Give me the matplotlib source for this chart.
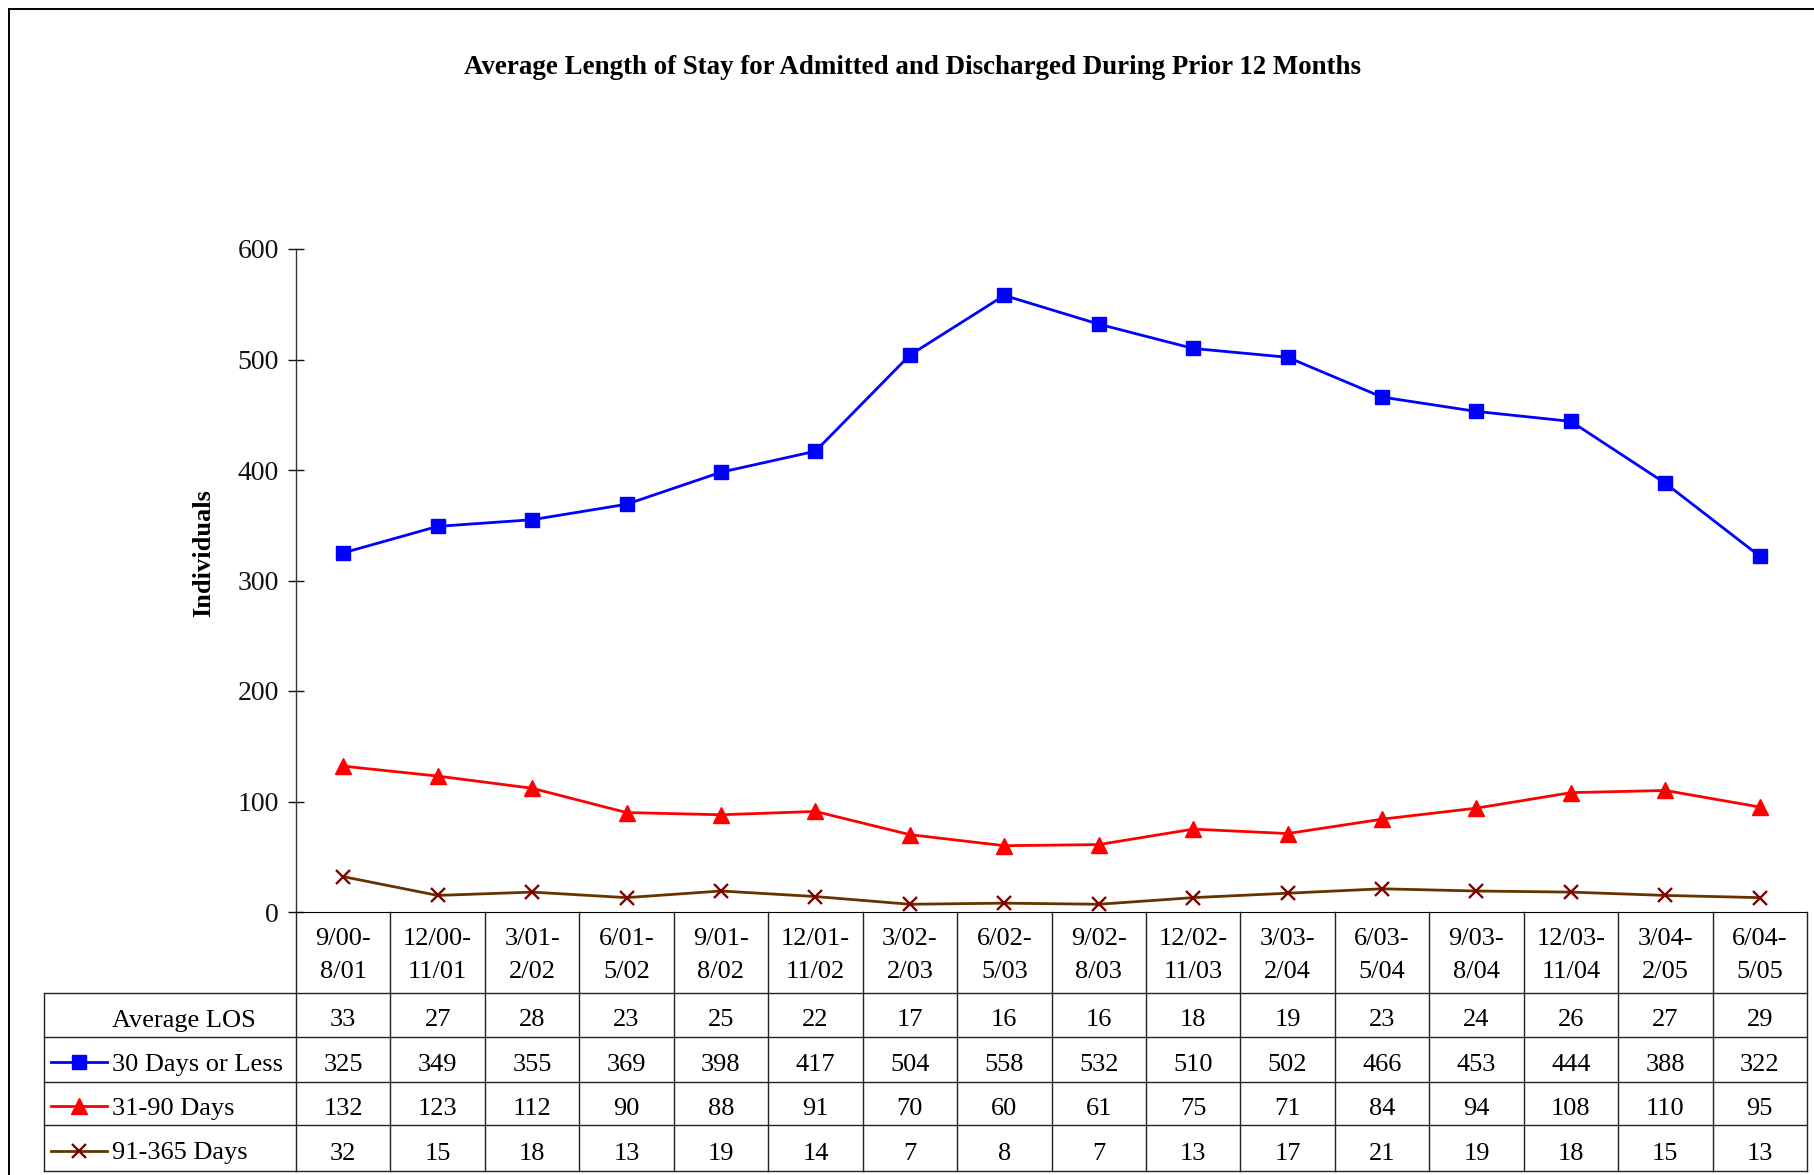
import numpy as np
import matplotlib
matplotlib.use("Agg")
from matplotlib import pyplot as plt
from matplotlib.transforms import blended_transform_factory
from matplotlib.lines import Line2D

plt.rcParams['font.family'] = ['Liberation Serif', 'DejaVu Serif']

# data
periods = ["9/00-\n8/01", "12/00-\n11/01", "3/01-\n2/02", "6/01-\n5/02",
           "9/01-\n8/02", "12/01-\n11/02", "3/02-\n2/03", "6/02-\n5/03",
           "9/02-\n8/03", "12/02-\n11/03", "3/03-\n2/04", "6/03-\n5/04",
           "9/03-\n8/04", "12/03-\n11/04", "3/04-\n2/05", "6/04-\n5/05"]
avg_los = [33, 27, 28, 23, 25, 22, 17, 16, 16, 18, 19, 23, 24, 26, 27, 29]
days_30 = [325, 349, 355, 369, 398, 417, 504, 558, 532, 510, 502, 466, 453, 444, 388, 322]
days_31_90 = [132, 123, 112, 90, 88, 91, 70, 60, 61, 75, 71, 84, 94, 108, 110, 95]
days_91_365 = [32, 15, 18, 13, 19, 14, 7, 8, 7, 13, 17, 21, 19, 18, 15, 13]
yticks = [0, 100, 200, 300, 400, 500, 600]

W, H = 1814, 1175
fig = plt.figure(figsize=(W / 100, H / 100), dpi=100)

# full-figure helper axes in pixel coordinates (for border and table)
tab = fig.add_axes([0, 0, 1, 1])
tab.set_xlim(0, W)
tab.set_ylim(H, 0)
tab.axis('off')

ax_left, ax_right, ax_top, ax_bot = 296, 1807, 249, 912
ax = fig.add_axes([ax_left / W, 1 - ax_bot / H, (ax_right - ax_left) / W, (ax_bot - ax_top) / H])
ax.patch.set_alpha(0)

x = np.arange(len(periods))
series = [
    ("30 Days or Less", days_30, dict(color='#0000FF', marker='s', markersize=10.5,
                                      markerfacecolor='#0000FF', markeredgecolor='#0000FF')),
    ("31-90 Days", days_31_90, dict(color='#FF0000', marker='^', markersize=11,
                                    markerfacecolor='#FF0000', markeredgecolor='#FF0000')),
    ("91-365 Days", days_91_365, dict(color='#663300', marker='x', markersize=10,
                                      markeredgecolor='#800000', markeredgewidth=1.7)),
]
for name, vals, st in series:
    ax.plot(x, vals, lw=2.0, clip_on=False, zorder=3, **st)

ax.set_xlim(-0.5, len(periods) - 0.5)
ax.set_ylim(0, 600)
ax.set_yticks(yticks)
ax.set_xticks([])
for s in ['top', 'right']:
    ax.spines[s].set_visible(False)
ax.spines['left'].set_color('#333333')
ax.spines['bottom'].set_color('black')
ax.spines['left'].set_linewidth(1.0)
ax.tick_params(axis='y', direction='inout', length=12, width=1, pad=6.5,
               labelsize=20, colors='#111111')

fig.text(204 / W, 1 - 553 / H, "Individuals", rotation=90, ha='center', va='center',
         fontsize=19, fontweight='bold')
fig.text(913 / W, 1 - 67 / H,
         "Average Length of Stay for Admitted and Discharged During Prior 12 Months",
         ha='center', va='center', fontsize=19.4, fontweight='bold')

# outer border
tab.plot([9, 9], [9, H], color='black', lw=1.4)
tab.plot([9, W], [9, 9], color='black', lw=1.4)

# data table
bt = blended_transform_factory(ax.transData, tab.transData)
lc, lw = '#222222', 1.0
hdr_top, hdr_bot = ax_bot, 993
row_edges = [993, 1037, 1082, 1125, 1171]
tab_left = 44
fs = 19

# header column lines
for i in range(len(periods) + 1):
    tab.plot([i - 0.5, i - 0.5], [hdr_top, row_edges[-1]], color=lc, lw=lw, transform=bt)
# horizontal lines of body rows
for y in row_edges:
    tab.plot([tab_left, ax_right], [y, y], color=lc, lw=lw)
tab.plot([tab_left, tab_left], [row_edges[0], row_edges[-1]], color=lc, lw=lw)

for i, p in enumerate(periods):
    tab.text(i, (hdr_top + hdr_bot) / 2 + 3, p, ha='center', va='center',
             fontsize=fs, linespacing=1.7, transform=bt)

rows = [("Average LOS", avg_los, None)] + [(n, v, st) for n, v, st in series]
for r, (name, vals, st) in enumerate(rows):
    yc = (row_edges[r] + row_edges[r + 1]) / 2 + 5.5
    tab.text(112, yc, name, ha='left', va='center', fontsize=fs)
    if st is not None:
        tab.add_line(Line2D([51, 107], [yc - 3, yc - 3], color=st['color'], lw=2.0))
        tab.plot([79], [yc - 3], linestyle='none', **st)
    for i, v in enumerate(vals):
        tab.text(i, yc, str(v), ha='center', va='center', fontsize=fs, transform=bt)

fig.savefig("out.png", dpi=100)
